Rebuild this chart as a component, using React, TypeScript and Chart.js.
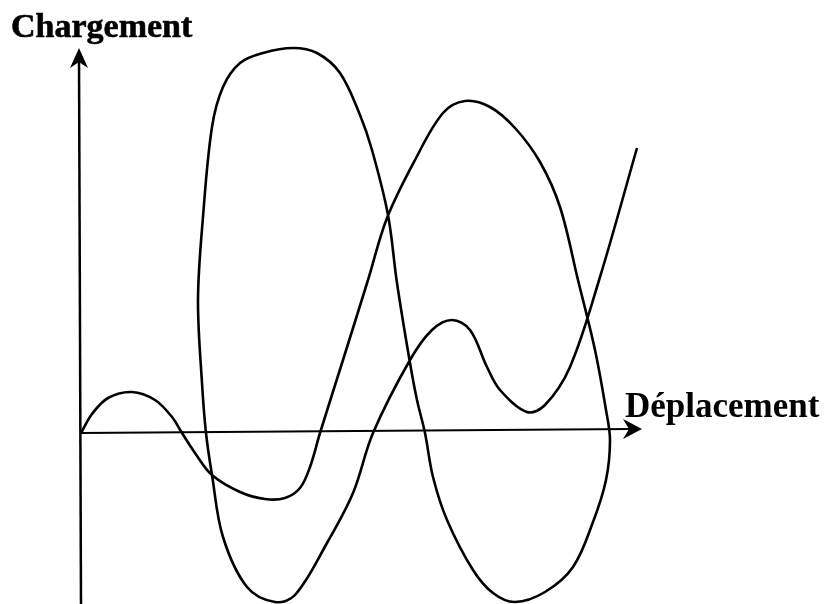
import React, { useEffect, useRef } from "react";
import { Chart, registerables } from "chart.js";

Chart.register(...registerables);

// Curve traced in axis units (origin = axes crossing; x = déplacement, y = chargement)
const curveX: number[] = [
  0, 1.1, 2.7, 5.1, 7.4, 9.1, 10.1, 11.4, 13.1, 15.9, 18.4, 20.4, 21.9, 22.9, 23.9,
  26.2, 28.7, 30.6, 33.4, 36.2, 38.4, 40.9, 43.4, 45.9, 47.9, 49.7, 51.4, 52.5, 52.9,
  52.5, 51.2, 49.2, 46.4, 43.4, 41.2, 39.2, 36.6, 35.2, 34.4, 33.6, 32.9, 31.6, 30.7,
  29.1, 27.9, 25.9, 23.6, 21.2, 18.2, 15.9, 14.2, 13.1, 12.2, 11.7, 12.1, 12.5,
  13.1, 14.2, 16.6, 19.4, 21.4, 24.6, 27.2, 29.2, 32.9, 35.1, 37.1, 38.9, 40.6, 41.9,
  44.6, 46.4, 48.9, 51.9, 55.6,
];
const curveY: number[] = [
  0, 1.9, 3.5, 4.1, 3.3, 1.6, 0, -2.0, -4.2, -5.9, -6.6, -6.5, -5.5, -3.4, 0,
  7.3, 15.3, 21.5, 27.3, 32.0, 33.2, 32.6, 30.5, 27.1, 22.6, 15.3, 8.3, 2.3, -0.7,
  -4.7, -8.9, -13.4, -15.9, -16.9, -16.0, -13.7, -8.7, -4.4, 0, 3.3, 7.0, 15.0, 21.8,
  28.3, 31.8, 36.0, 38.0, 38.5, 38.0, 37.0, 34.6, 30.6, 21.6, 13.3, 5.0, 0,
  -4.2, -10.4, -15.4, -16.9, -16.2, -11.0, -6.0, 0, 7.3, 10.3, 11.3, 10.3, 6.6, 4.3,
  2.1, 2.8, 6.6, 15.6, 28.5,
];

const yAxisLabel = "Chargement";
const xAxisLabel = "Déplacement";
const xAxisEnd = 56.1;
const yAxisEnd = 38.5;

export default function App() {
  const canvasRef = useRef<HTMLCanvasElement | null>(null);

  useEffect(() => {
    if (!canvasRef.current) return;
    const data = curveX.map((x, i) => ({ x, y: curveY[i] }));

    const axesPlugin = {
      id: "handAxes",
      beforeDatasetsDraw(chart: any) {
        const ctx = chart.ctx;
        const xs = chart.scales.x;
        const ys = chart.scales.y;
        const ox = xs.getPixelForValue(0);
        const oy = ys.getPixelForValue(0);
        const xEnd = xs.getPixelForValue(xAxisEnd);
        const yEnd = ys.getPixelForValue(yAxisEnd);
        ctx.save();
        ctx.strokeStyle = "#000";
        ctx.fillStyle = "#000";
        ctx.lineWidth = 2.5;
        // vertical axis
        ctx.beginPath();
        ctx.moveTo(ox, chart.chartArea.bottom);
        ctx.lineTo(ox - 2, yEnd + 10);
        ctx.stroke();
        // horizontal axis
        ctx.lineWidth = 2;
        ctx.beginPath();
        ctx.moveTo(ox, oy);
        ctx.lineTo(xEnd - 10, oy - 4);
        ctx.stroke();
        // y arrow head
        const tx = ox - 2;
        ctx.beginPath();
        ctx.moveTo(tx, yEnd);
        ctx.lineTo(tx + 9, yEnd + 20);
        ctx.lineTo(tx, yEnd + 14);
        ctx.lineTo(tx - 9, yEnd + 20);
        ctx.closePath();
        ctx.fill();
        // x arrow head
        const ty = oy - 4;
        ctx.beginPath();
        ctx.moveTo(xEnd, ty);
        ctx.lineTo(xEnd - 19, ty - 10);
        ctx.lineTo(xEnd - 13, ty);
        ctx.lineTo(xEnd - 19, ty + 10);
        ctx.closePath();
        ctx.fill();
        ctx.restore();
      },
      afterDraw(chart: any) {
        const ctx = chart.ctx;
        const xs = chart.scales.x;
        const ys = chart.scales.y;
        const ox = xs.getPixelForValue(0);
        const oy = ys.getPixelForValue(0);
        const xEnd = xs.getPixelForValue(xAxisEnd);
        const yEnd = ys.getPixelForValue(yAxisEnd);
        ctx.save();
        ctx.fillStyle = "#000";
        ctx.strokeStyle = "#000";
        ctx.textBaseline = "alphabetic";
        ctx.textAlign = "left";
        ctx.lineWidth = 0.6;
        ctx.font = 'bold 34px "Liberation Serif"';
        ctx.fillText(yAxisLabel, ox - 70, yEnd - 11);
        ctx.strokeText(yAxisLabel, ox - 70, yEnd - 11);
        ctx.font = 'bold 35px "Liberation Serif"';
        ctx.fillText(xAxisLabel, xEnd - 17, oy - 16);
        ctx.restore();
      },
    };

    const chart = new Chart(canvasRef.current, {
      type: "scatter",
      data: {
        datasets: [
          {
            data,
            showLine: true,
            borderColor: "#000",
            borderWidth: 2.6,
            pointRadius: 0,
            tension: 0.35,
            fill: false,
          },
        ],
      },
      options: {
        animation: false,
        responsive: false,
        layout: { padding: 0 },
        plugins: { legend: { display: false }, tooltip: { enabled: false } },
        scales: {
          x: { type: "linear", display: false, min: -8.1, max: 74.3 },
          y: { type: "linear", display: false, min: -17.1, max: 43.3 },
        },
      },
      plugins: [axesPlugin],
    });
    return () => chart.destroy();
  }, []);

  return (
    <div style={{ position: "fixed", left: 0, top: 0, width: 824, height: 604, background: "#fff" }}>
      <canvas ref={canvasRef} width={824} height={604} style={{ display: "block" }} />
    </div>
  );
}
